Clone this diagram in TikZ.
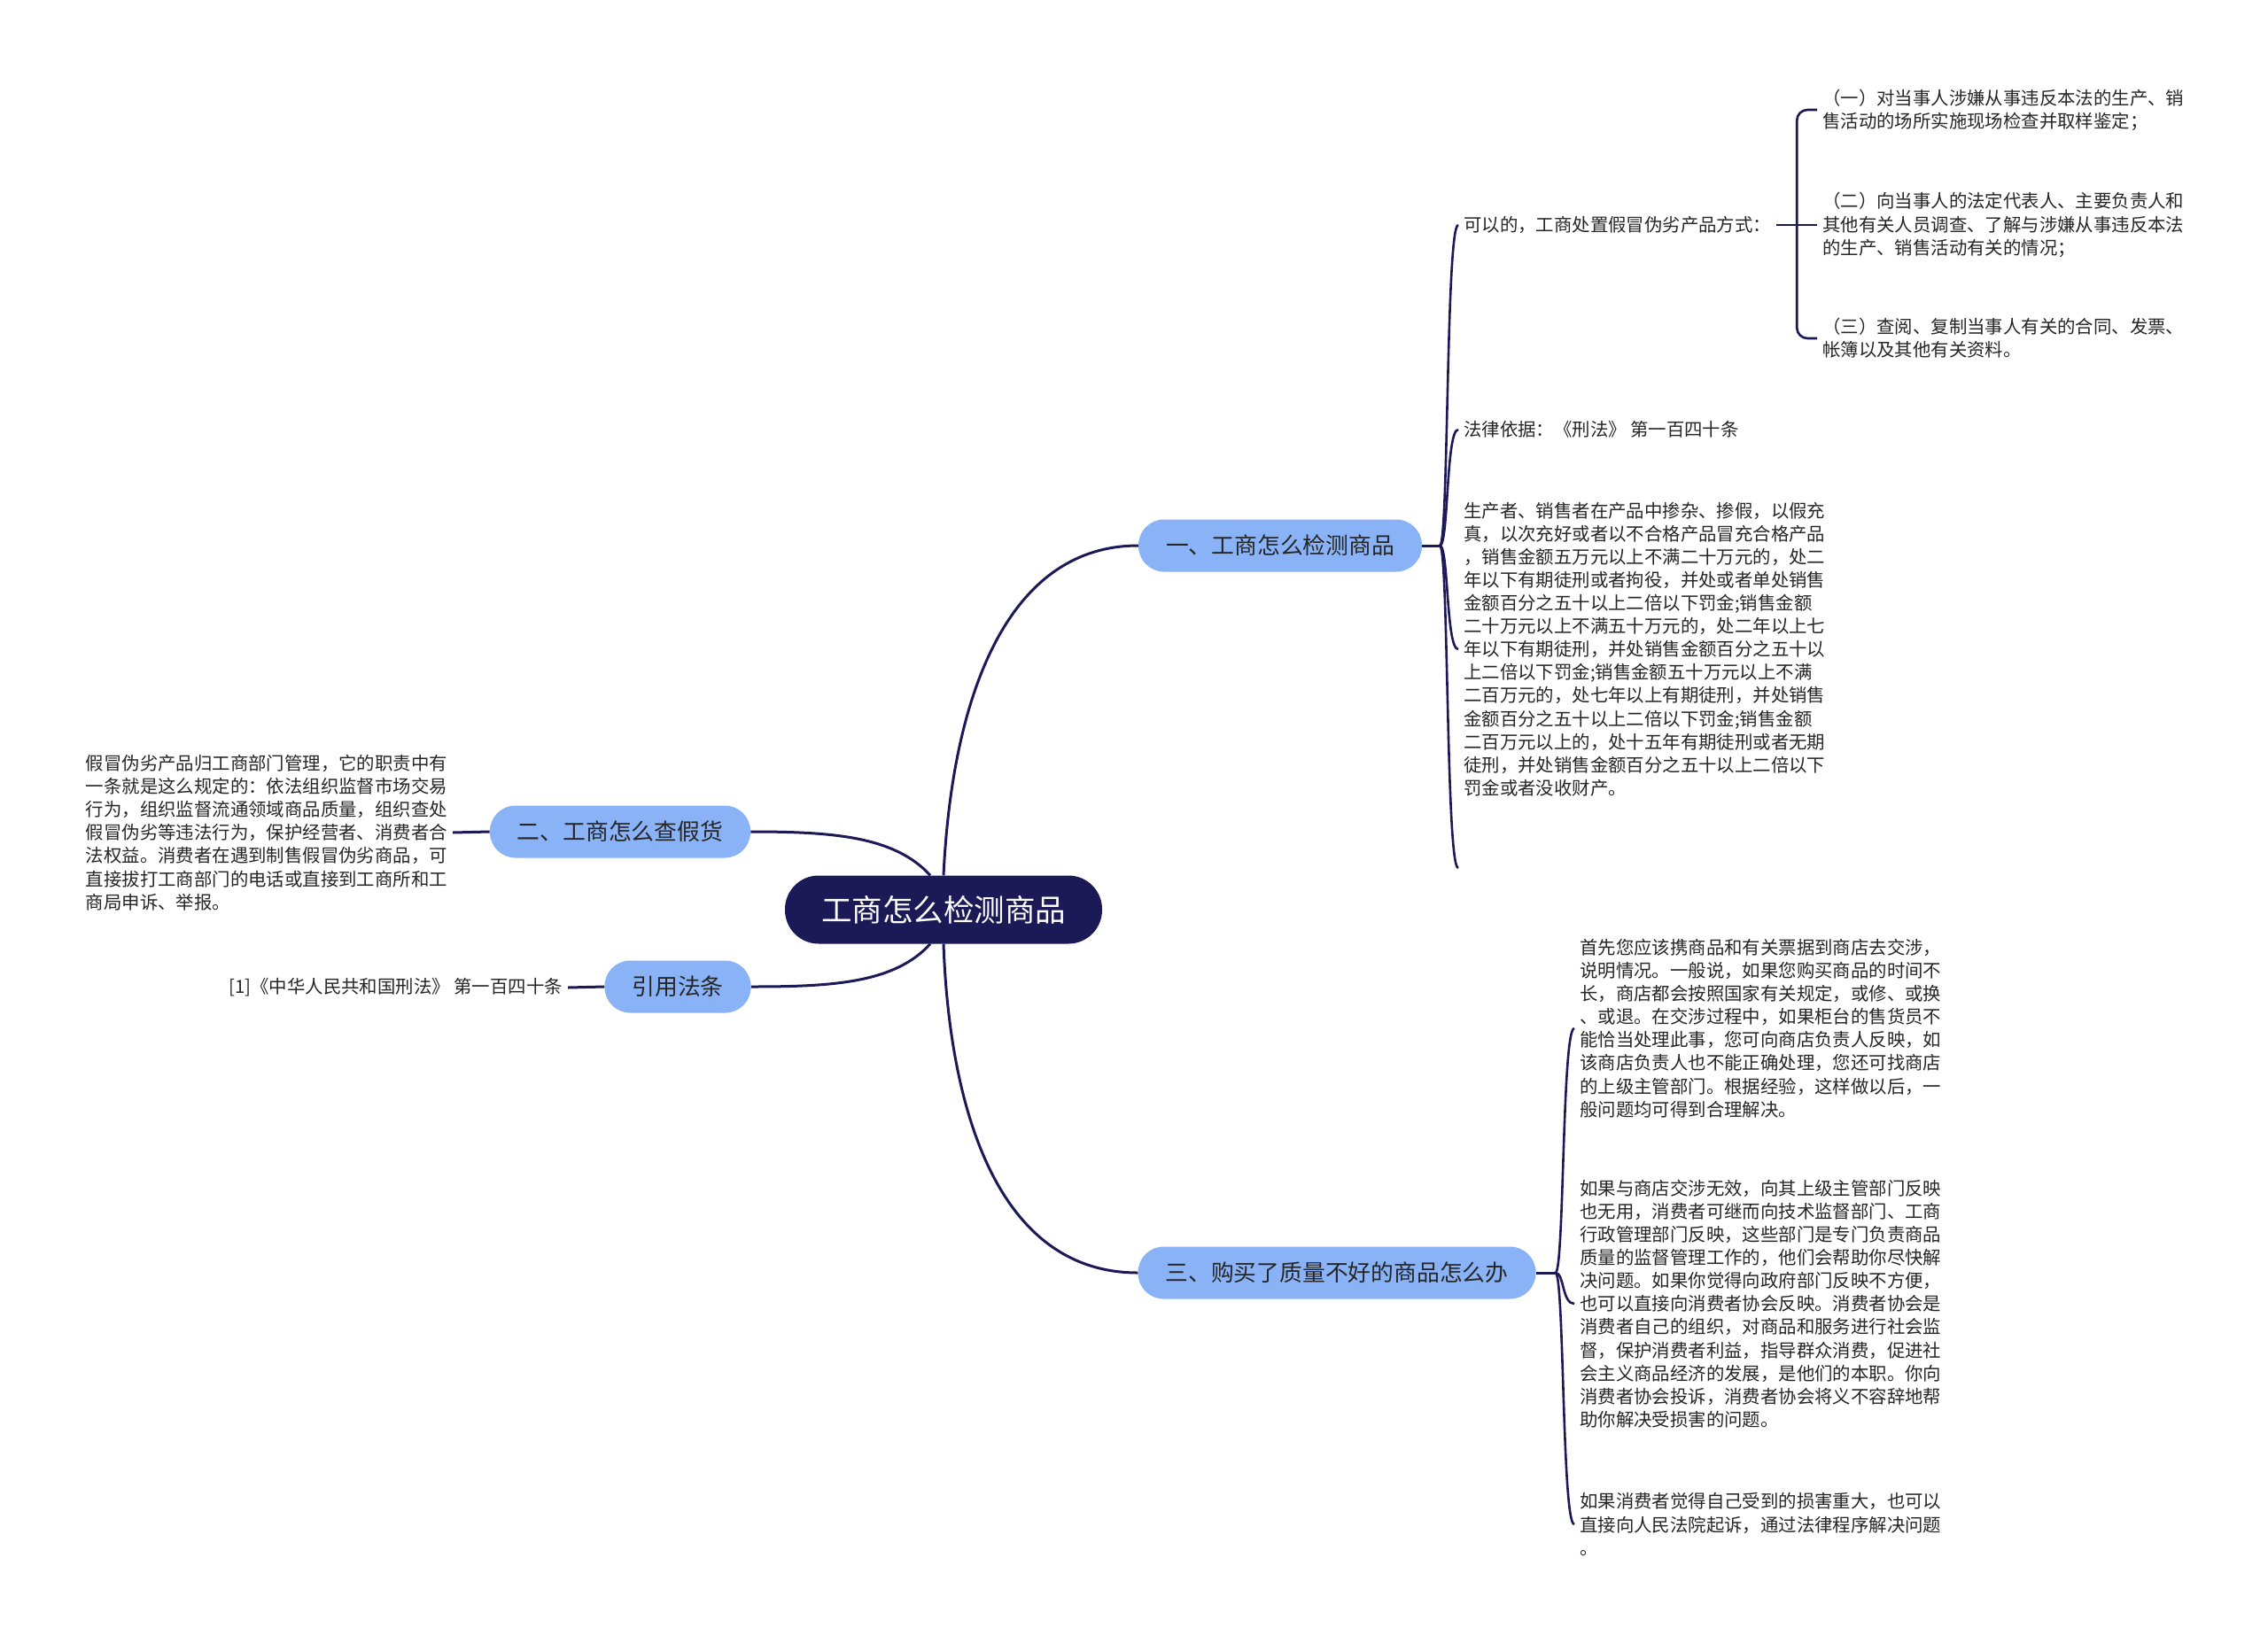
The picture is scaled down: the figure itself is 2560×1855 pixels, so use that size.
\documentclass[tikz,border=0pt]{standalone}
\usepackage{fontspec}
\setmainfont{Noto Sans CJK SC}
\usepackage{xcolor}
\usepackage{tikz}
\definecolor{navy}{HTML}{1B1A57}
\definecolor{skyblue}{HTML}{8AB3F7}
\definecolor{inkgray}{HTML}{262626}
\newcommand\leaffont{\fontsize{20.4}{26.1}\selectfont}

\begin{document}
\begin{tikzpicture}[x=1pt, y=-1pt,
  every node/.style={inner sep=0pt},
  root/.style={fill=navy, text=white, rounded corners=38pt, minimum height=77pt,
    inner xsep=41pt, font=\fontsize{34.5}{40}\selectfont},
  topic/.style={fill=skyblue, text=inkgray, rounded corners=29pt, minimum height=59pt,
    inner xsep=31pt, font=\fontsize{25.8}{30}\selectfont},
  leaf/.style={align=left, text=inkgray, inner xsep=6pt, font=\leaffont},
  link/.style={draw=navy, line width=3pt},
  twig/.style={draw=navy, line width=2.6pt}]
\fill[white] (0,0) rectangle (2560,1855);

\node[root] (root) at (1065,1027) {工商怎么检测商品};
\node[topic] (b1) at (1445,616) {一、工商怎么检测商品};
\node[topic] (b2) at (700,939) {二、工商怎么查假货};
\node[topic] (b4) at (765,1114) {引用法条};
\node[topic] (b3) at (1509,1437) {三、购买了质量不好的商品怎么办};

\node[leaf, anchor=west] (l11) at (1646,254) {可以的，工商处置假冒伪劣产品方式：};
\node[leaf, anchor=west] (l111) at (2051,124) {（一）对当事人涉嫌从事违反本法的生产、销\\售活动的场所实施现场检查并取样鉴定；};
\node[leaf, anchor=west] (l112) at (2051,254) {（二）向当事人的法定代表人、主要负责人和\\其他有关人员调查、了解与涉嫌从事违反本法\\的生产、销售活动有关的情况；};
\node[leaf, anchor=west] (l113) at (2051,382) {（三）查阅、复制当事人有关的合同、发票、\\帐簿以及其他有关资料。};
\node[leaf, anchor=west] (l12) at (1646,485) {法律依据：《刑法》 第一百四十条};
\node[leaf, anchor=west] (l13) at (1646,733) {生产者、销售者在产品中掺杂、掺假，以假充\\真，以次充好或者以不合格产品冒充合格产品\\，销售金额五万元以上不满二十万元的，处二\\年以下有期徒刑或者拘役，并处或者单处销售\\金额百分之五十以上二倍以下罚金;销售金额\\二十万元以上不满五十万元的，处二年以上七\\年以下有期徒刑，并处销售金额百分之五十以\\上二倍以下罚金;销售金额五十万元以上不满\\二百万元的，处七年以上有期徒刑，并处销售\\金额百分之五十以上二倍以下罚金;销售金额\\二百万元以上的，处十五年有期徒刑或者无期\\徒刑，并处销售金额百分之五十以上二倍以下\\罚金或者没收财产。};
\coordinate (l14) at (1646,980);

\node[leaf, anchor=east] (l2) at (511,940) {假冒伪劣产品归工商部门管理，它的职责中有\\一条就是这么规定的：依法组织监督市场交易\\行为，组织监督流通领域商品质量，组织查处\\假冒伪劣等违法行为，保护经营者、消费者合\\法权益。消费者在遇到制售假冒伪劣商品，可\\直接拔打工商部门的电话或直接到工商所和工\\商局申诉、举报。};
\node[leaf, anchor=east] (l4) at (641,1115) {[1]《中华人民共和国刑法》 第一百四十条};

\node[leaf, anchor=west] (l31) at (1777,1161) {首先您应该携商品和有关票据到商店去交涉，\\说明情况。一般说，如果您购买商品的时间不\\长，商店都会按照国家有关规定，或修、或换\\、或退。在交涉过程中，如果柜台的售货员不\\能恰当处理此事，您可向商店负责人反映，如\\该商店负责人也不能正确处理，您还可找商店\\的上级主管部门。根据经验，这样做以后，一\\般问题均可得到合理解决。};
\node[leaf, anchor=west] (l32) at (1777,1472) {如果与商店交涉无效，向其上级主管部门反映\\也无用，消费者可继而向技术监督部门、工商\\行政管理部门反映，这些部门是专门负责商品\\质量的监督管理工作的，他们会帮助你尽快解\\决问题。如果你觉得向政府部门反映不方便，\\也可以直接向消费者协会反映。消费者协会是\\消费者自己的组织，对商品和服务进行社会监\\督，保护消费者利益，指导群众消费，促进社\\会主义商品经济的发展，是他们的本职。你向\\消费者协会投诉，消费者协会将义不容辞地帮\\助你解决受损害的问题。};
\node[leaf, anchor=west] (l33) at (1777,1721) {如果消费者觉得自己受到的损害重大，也可以\\直接向人民法院起诉，通过法律程序解决问题\\。};

\draw[link] (root.north) .. controls +(10,-209) and +(-145,0) .. (b1.west);
\draw[link] (root.south) .. controls +(7,194) and +(-155,0) .. (b3.west);
\draw[link] ([xshift=-15pt]root.north) .. controls +(-40,-44) and +(93,0) .. (b2.east);
\draw[link] ([xshift=-15pt]root.south) .. controls +(-40,44) and +(93,0) .. (b4.east);

\draw[link] (b2.west) -- (l2.east);
\draw[link] (b4.west) -- (l4.east);

\coordinate (j1) at ([xshift=20pt]b1.east);
\draw[link] (b1.east) -- (j1);
\foreach \t in {l11.west, l12.west, l13.west, l14}
  \draw[twig] (j1) .. controls +(10,0) and +(-14,0) .. (\t);

\coordinate (j11) at ([xshift=23pt]l11.east);
\draw[twig] (l11.east) -- (l112.west);
\draw[twig, rounded corners=12pt] (j11) |- (l111.west);
\draw[twig, rounded corners=12pt] (j11) |- (l113.west);

\coordinate (j3) at ([xshift=22pt]b3.east);
\draw[link] (b3.east) -- (j3);
\foreach \t in {l31, l32, l33}
  \draw[twig] (j3) .. controls +(10,0) and +(-14,0) .. (\t.west);
\end{tikzpicture}
\end{document}
